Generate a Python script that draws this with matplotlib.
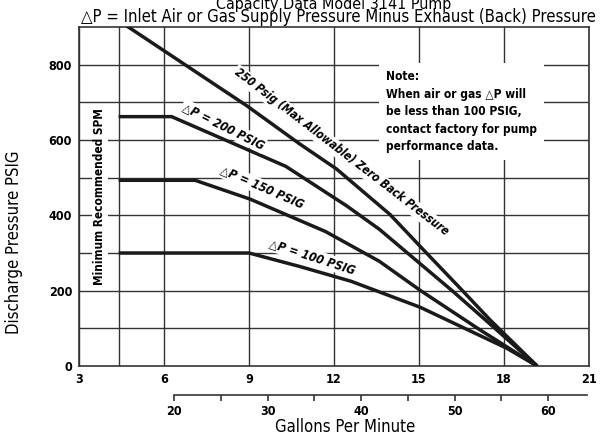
import numpy as np
import matplotlib
matplotlib.use("Agg")
import matplotlib.pyplot as plt
from matplotlib import font_manager

# SPM (strokes per minute) vs discharge pressure (PSIG)
spm_250 = [4.4, 8.92, 10.8, 12.09, 13.98, 15.15, 16.56, 17.5, 19.17]
psig_250 = [917, 691, 589, 523, 402, 309, 198, 123, 0]

spm_200 = [4.4, 6.27, 10.3, 12.45, 13.6, 16.2, 17.74, 19.17]
psig_200 = [662, 662, 530, 425, 363, 198, 96, 0]

spm_150 = [4.4, 7.1, 9.04, 11.7, 13.6, 15.04, 17.15, 19.17]
psig_150 = [493, 493, 443, 357, 278, 201, 96, 0]

spm_100 = [4.4, 9.0, 10.8, 12.6, 15.04, 18.1, 19.17]
psig_100 = [300, 300, 264, 225, 156, 47, 0]

x_ticks = [3, 6, 9, 12, 15, 18, 21]
y_ticks = [0, 200, 400, 600, 800]
gpm_ticks = [20, 30, 40, 50, 60]
gpm_minor = [25, 35, 45, 55]
min_spm = 4.4

# look for a narrow / condensed face
narrow_name, narrow_stretch = "DejaVu Sans", "normal"
found = [f for f in font_manager.fontManager.ttflist
         if ("Narrow" in f.fname or "Condensed" in f.fname or "Narrow" in f.name or "Condensed" in f.name)
         and "Italic" not in f.fname and "Oblique" not in f.fname]
for pref in ["Liberation Sans Narrow", "DejaVu Sans", "Roboto", "Noto Sans", "Open Sans"]:
    hit = [f for f in found if f.name.startswith(pref)]
    if hit:
        narrow_name, narrow_stretch = hit[0].name, hit[0].stretch
        break
if not found:
    narrow_stretch = "condensed"
fam = [narrow_name, "DejaVu Sans"]
plt.rcParams["font.family"] = fam
plt.rcParams["font.stretch"] = narrow_stretch

fig = plt.figure(figsize=(6, 4.4), dpi=100)
ax = fig.add_axes([79/600, 74/440, 510/600, 339/440])

ax.set_xlim(3, 21)
ax.set_ylim(0, 900)
grid_c = "#333333"
for x in x_ticks + [min_spm]:
    ax.axvline(x, color=grid_c, lw=1.0, zorder=1)
for y in range(100, 900, 100):
    ax.axhline(y, color=grid_c, lw=1.0, zorder=1)
for s in ax.spines.values():
    s.set_color(grid_c)
    s.set_linewidth(1.2)

for xs, ys in [(spm_250, psig_250), (spm_200, psig_200), (spm_150, psig_150), (spm_100, psig_100)]:
    ax.plot(xs, ys, color="#1a1a1a", lw=2.5, solid_capstyle="butt", zorder=3)

ax.set_xticks(x_ticks)
ax.set_yticks(y_ticks)
ax.tick_params(length=0, pad=5)
for lab in ax.get_xticklabels() + ax.get_yticklabels():
    lab.set_fontweight("bold")
    lab.set_fontsize(9)

box = dict(facecolor="white", edgecolor="none", pad=1)
lbl = dict(fontweight="bold", style="italic", ha="center", va="center",
           rotation_mode="anchor", zorder=4, bbox=box)
ax.text(12.25, 568, "250 Psig (Max Allowable) Zero Back Pressure", rotation=-37.5, fontsize=8.4, **lbl)
ax.text(8.09, 637, "\u25b3P = 200 PSIG", rotation=-26.5, fontsize=8.8, **lbl)
ax.text(9.46, 474, "\u25b3P = 150 PSIG", rotation=-23.5, fontsize=8.8, **lbl)
ax.text(11.22, 290, "\u25b3P = 100 PSIG", rotation=-18, fontsize=8.8, **lbl)

ax.text(3.74, 450, "Minimum Recommended SPM", rotation=90, fontsize=8.5, fontweight="bold",
        ha="center", va="center", zorder=4, bbox=box)

ax.text(13.85, 785, "Note:\nWhen air or gas \u25b3P will\nbe less than 100 PSIG,\ncontact factory for pump\nperformance data.",
        fontsize=8.6, fontweight="bold", ha="left", va="top", linespacing=1.45, zorder=4,
        bbox=dict(facecolor="white", edgecolor="none", pad=5))

ax.set_ylabel("Discharge Pressure PSIG", fontsize=12)
ax.yaxis.set_label_coords(-0.11, 0.365)

fig.text(334/600, 1 - 5/440, "Capacity Data Model 3141 Pump", fontsize=11.5, ha="center", va="center")
fig.text(338/600, 1 - 17/440, "\u25b3P = Inlet Air or Gas Supply Pressure Minus Exhaust (Back) Pressure",
         fontsize=12, ha="center", va="center")

# gallons per minute scale
ax2 = fig.add_axes([174/600, 45/440, 413/600, 0.001])
ax2.set_xlim(20, 64.17)
for k in ["top", "left", "right"]:
    ax2.spines[k].set_visible(False)
ax2.spines["bottom"].set_color(grid_c)
ax2.spines["bottom"].set_linewidth(1.2)
ax2.set_yticks([])
ax2.set_xticks(gpm_ticks)
ax2.set_xticks(gpm_minor, minor=True)
ax2.tick_params(axis="x", which="both", direction="out", length=4, color=grid_c, width=1.2, pad=3)
for lab in ax2.get_xticklabels():
    lab.set_fontweight("bold")
    lab.set_fontsize(9)
ax2.patch.set_visible(False)
fig.text(345/600, 1 - 427/440, "Gallons Per Minute", fontsize=12, ha="center", va="center")

fig.savefig("out.png", dpi=100)
